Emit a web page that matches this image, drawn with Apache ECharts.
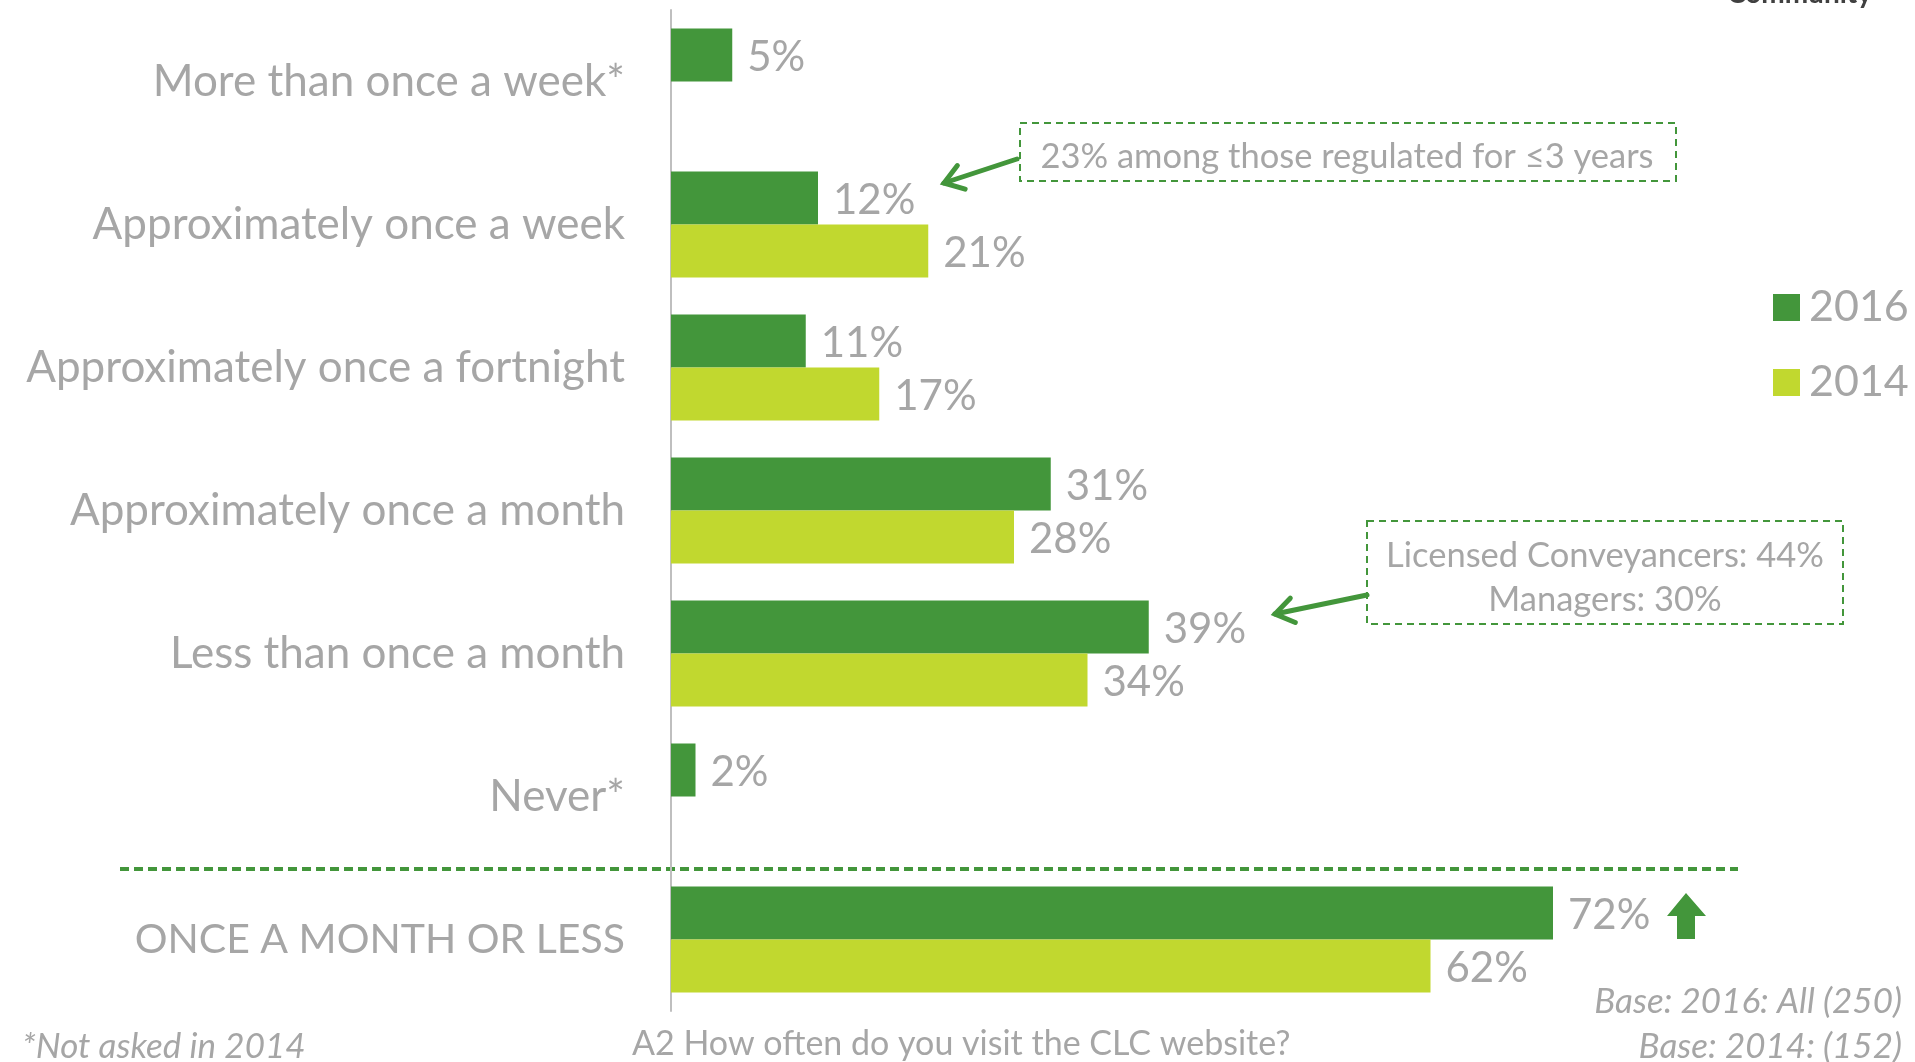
<!DOCTYPE html>
<html>
<head>
<meta charset="utf-8">
<script src="https://cdn.jsdelivr.net/npm/echarts@6/dist/echarts.min.js"></script>
<style>
  html, body { margin: 0; padding: 0; background: #fff; }
  #chart { width: 1915px; height: 1062px; }
</style>
</head>
<body>
<div id="chart"></div>
<script>
const categories = ['More than once a week*', 'Approximately once a week', 'Approximately once a fortnight',
  'Approximately once a month', 'Less than once a month', 'Never*', 'ONCE A MONTH OR LESS']
const values2016 = [5, 12, 11, 31, 39, 2, 72]
const values2014 = [null, 21, 17, 28, 34, null, 62]
const seriesNames = ['2016', '2014']

const DARK = '#43963b'
const LIGHT = '#c1d82f'
const GREY = '#a6a6a6'
const FONT = 'Lato'

// 箭头: 一条线 + 两条短线作箭头
function arrow(x1, y1, x2, y2, head) {
  const a = Math.atan2(y1 - y2, x1 - x2)
  const s = 0.6
  const style = { stroke: DARK, lineWidth: 5, lineCap: 'round' }
  return [
    { type: 'line', shape: { x1, y1, x2, y2 }, style },
    { type: 'polyline', shape: { points: [
      [x2 + head * Math.cos(a + s), y2 + head * Math.sin(a + s)],
      [x2, y2],
      [x2 + head * Math.cos(a - s), y2 + head * Math.sin(a - s)]
    ] }, style }
  ]
}

const valueLabel = {
  show: true, position: 'right', distance: 15, offset: [0, 2],
  formatter: '{c}%', color: GREY, fontSize: 42, fontFamily: FONT
}

const chart = echarts.init(document.getElementById('chart'))
chart.setOption({
  animation: false,
  textStyle: { fontFamily: FONT },
  grid: { left: 671, right: 19, top: 10, bottom: 51, containLabel: false },
  legend: {
    orient: 'vertical',
    left: 1773,
    top: 286,
    padding: 0,
    itemWidth: 27,
    itemHeight: 27,
    itemGap: 32,
    icon: 'rect',
    data: seriesNames,
    textStyle: { color: GREY, fontSize: 43, lineHeight: 42, fontFamily: FONT, padding: [0, 0, 0, 4] }
  },
  xAxis: { type: 'value', min: 0, max: 100, show: false },
  yAxis: {
    type: 'category',
    inverse: true,
    data: categories,
    axisLine: { lineStyle: { color: '#bfbfbf', width: 2 } },
    axisTick: { length: 16, lineStyle: { color: '#bfbfbf', width: 2 } },
    axisLabel: {
      color: GREY, fontSize: 44, margin: 46, fontFamily: FONT,
      // 大写的汇总行字宽较大, 单独缩小
      formatter: v => v === categories[6] ? '{caps|' + v + '}' : v,
      rich: { caps: { color: GREY, fontSize: 41, fontFamily: FONT } }
    }
  },
  series: [{
    name: seriesNames[0],
    type: 'bar',
    data: values2016,
    itemStyle: { color: DARK },
    barGap: '0%',
    barCategoryGap: '26%',
    label: valueLabel
  }, {
    name: seriesNames[1],
    type: 'bar',
    data: values2014,
    itemStyle: { color: LIGHT },
    barGap: '0%',
    barCategoryGap: '26%',
    label: valueLabel
  }]
})

// 分隔虚线: 位于最后两个类目之间
const yA = chart.convertToPixel({ yAxisIndex: 0 }, categories[5])
const yB = chart.convertToPixel({ yAxisIndex: 0 }, categories[6])
const sepY = (yA + yB) / 2 + 1

const boxStyle = { fill: 'none', stroke: DARK, lineWidth: 2, lineDash: [7, 5] }
const noteText = { fill: GREY, fontSize: 34.5, fontFamily: FONT, textAlign: 'center', textVerticalAlign: 'middle' }
const footText = { fill: GREY, fontSize: 35, fontStyle: 'italic', fontFamily: FONT, textVerticalAlign: 'middle' }

chart.setOption({
  graphic: [
    { type: 'line', shape: { x1: 120, y1: sepY, x2: 1738, y2: sepY },
      style: { stroke: DARK, lineWidth: 4, lineDash: [9, 5] } },
    // 注释框 1
    { type: 'rect', shape: { x: 1020, y: 123, width: 656, height: 58 }, style: boxStyle },
    { type: 'text', x: 1347, y: 157, style: Object.assign({ text: '23% among those regulated for ≤3 years' }, noteText) },
    ...arrow(1017, 159, 944, 183, 22),
    // 注释框 2
    { type: 'rect', shape: { x: 1367, y: 521, width: 476, height: 103 }, style: boxStyle },
    { type: 'text', x: 1605, y: 556, style: Object.assign({ text: 'Licensed Conveyancers: 44%' }, noteText) },
    { type: 'text', x: 1605, y: 600, style: Object.assign({ text: 'Managers: 30%' }, noteText) },
    ...arrow(1367, 595, 1275, 614, 22),
    // 上升箭头
    { type: 'polygon', shape: { points: [[1686, 893], [1706, 916], [1695, 916], [1695, 939], [1677, 939], [1677, 916], [1667, 916]] },
      style: { fill: DARK } },
    // 底部文字
    { type: 'text', x: 22, y: 1047, style: Object.assign({ text: '*Not asked in 2014' }, footText) },
    { type: 'text', x: 632, y: 1044, style: { text: 'A2 How often do you visit the CLC website?', fill: GREY, fontSize: 34, fontFamily: FONT, textVerticalAlign: 'middle' } },
    { type: 'text', x: 1902, y: 1002, style: Object.assign({ text: 'Base: 2016: All (250)', textAlign: 'right' }, footText) },
    { type: 'text', x: 1902, y: 1047, style: Object.assign({ text: 'Base: 2014: (152)', textAlign: 'right' }, footText) },
    // 顶部被裁掉的文字
    { type: 'text', x: 1872, y: 8, style: { text: 'Community', fill: '#404040', fontSize: 28, fontWeight: 'bold', fontFamily: FONT, textAlign: 'right', textVerticalAlign: 'bottom' } }
  ]
})
</script>
</body>
</html>
